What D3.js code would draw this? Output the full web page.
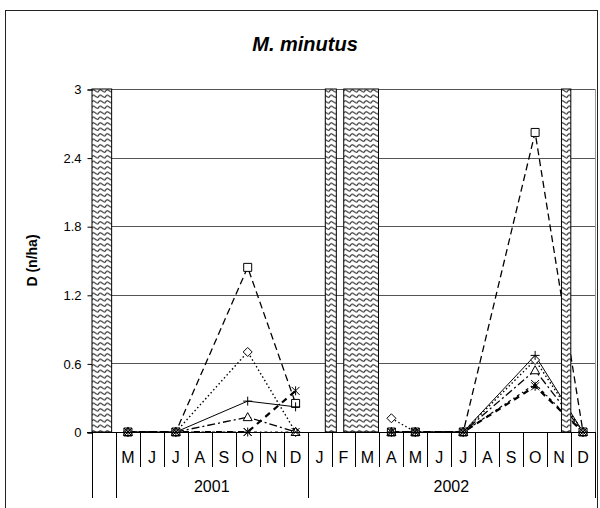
<!DOCTYPE html>
<html>
<head>
<meta charset="utf-8">
<script src="https://cdn.jsdelivr.net/npm/d3@7"></script>
<style>
  body { margin: 0; background: #fff; }
  text { font-family: "Liberation Sans", Arial, sans-serif; fill: #000; }
</style>
</head>
<body>
<svg id="chart" width="600" height="508"></svg>
<script>
// month categories along the bottom (first cell is empty)
const months = ["", "M", "J", "J", "A", "S", "O", "N", "D",
                "J", "F", "M", "A", "M", "J", "J", "A", "S", "O", "N", "D"];
const years = [{ label: "", n: 1 }, { label: "2001", n: 8 }, { label: "2002", n: 12 }];

// sampled months (index into months) split in two seasons
const season2001 = [1, 3, 6, 8];
const season2002 = [12, 13, 15, 18, 20];

// density values, one per sampled month (2001 then 2002)
const sqValues   = [0, 0, 1.44, 0.25,  0, 0, 0, 2.62, 0];
const diaValues  = [0, 0, 0.70, 0,     0.12, 0, 0, 0.63, 0];
const plusValues = [0, 0, 0.27, 0.22,  0, 0, 0, 0.67, 0];
const triValues  = [0, 0, 0.13, 0,     0, 0, 0, 0.54, 0];
const xValues    = [0, 0, 0, 0,        0, 0, 0, 0.42, 0];
const starValues = [0, 0, 0, 0.36,     0, 0, 0, 0.40, 0];

// hatched periods, in month units from the left of the axis
const periods = [[0, 0.82], [9.74, 10.2], [10.51, 11.96], [19.6, 19.99]];

const yTicks = [0, 0.6, 1.2, 1.8, 2.4, 3];

const svg = d3.select("#chart");
const plotLeft = 92, plotRight = 595, plotTop = 89, plotBottom = 432;

const x = d3.scaleLinear().domain([0, months.length]).range([plotLeft, plotRight]);
const y = d3.scaleLinear().domain([0, 3]).range([plotBottom, plotTop]);

// outer border
svg.append("rect")
    .attr("x", 5.5).attr("y", 10.5)
    .attr("width", 592).attr("height", 530)
    .style("fill", "none").style("stroke", "#222").style("stroke-width", 1);

// title
svg.append("text")
    .attr("x", 305).attr("y", 51)
    .attr("text-anchor", "middle")
    .style("font-size", "20px").style("font-weight", "bold").style("font-style", "italic")
    .text("M. minutus");

// pattern for the hatched columns
const defs = svg.append("defs");
const pat = defs.append("pattern")
    .attr("id", "wave").attr("patternUnits", "userSpaceOnUse")
    .attr("width", 7).attr("height", 5.5);
pat.append("rect").attr("width", 7).attr("height", 5.5).style("fill", "#fff");
pat.append("path")
    .attr("d", "M0,4 Q1.75,0.5 3.5,2.2 Q5.25,4 7,4")
    .style("fill", "none").style("stroke", "#222").style("stroke-width", 1.2);

// gridlines
svg.append("g").selectAll("line")
    .data(yTicks.filter(d => d > 0))
    .enter().append("line")
    .attr("x1", plotLeft).attr("x2", plotRight)
    .attr("y1", d => Math.round(y(d)) + 0.5).attr("y2", d => Math.round(y(d)) + 0.5)
    .style("stroke", "#555").style("stroke-width", 1);

// plot area right edge
svg.append("line")
    .attr("x1", plotRight + 0.5).attr("x2", plotRight + 0.5)
    .attr("y1", plotTop).attr("y2", plotBottom)
    .style("stroke", "#999");

// y axis
const yAxis = svg.append("g")
    .attr("transform", `translate(${plotLeft + 0.5},0.5)`)
    .call(d3.axisLeft(y).tickValues(yTicks).tickFormat(d => d).tickSize(5).tickPadding(6));
yAxis.select(".domain").style("stroke", "#000");
yAxis.selectAll("text").style("font-size", "13px").style("font-family", "Liberation Sans, Arial, sans-serif");

svg.append("text")
    .attr("transform", `translate(37,${(plotTop + plotBottom) / 2}) rotate(-90)`)
    .attr("text-anchor", "middle")
    .style("font-size", "14px").style("font-weight", "bold")
    .text("D (n/ha)");

// series
const sampleIdx = season2001.concat(season2002);
const series = [
    { name: "sq",   values: sqValues,   dash: "7,4",        width: 1.3, marker: "square" },
    { name: "dia",  values: diaValues,  dash: "1.5,2.5",    width: 1.4, marker: "diamond" },
    { name: "plus", values: plusValues, dash: null,         width: 1,   marker: "plus" },
    { name: "tri",  values: triValues,  dash: "8,3,2,3",    width: 1.3, marker: "triangle" },
    { name: "x",    values: xValues,    dash: "3,3,1.5,3",  width: 1.2, marker: "x" },
    { name: "star", values: starValues, dash: "6,5",        width: 2.2, marker: "star" }
];

const line = d3.line().x(d => x(d.i + 0.5)).y(d => y(d.v));
const lineLayer = svg.append("g");
series.forEach(s => {
    const pts = sampleIdx.map((i, k) => ({ i: i, v: s.values[k] }));
    const segs = [pts.slice(0, season2001.length), pts.slice(season2001.length)];
    segs.forEach(seg => {
        lineLayer.append("path")
            .attr("d", line(seg))
            .style("fill", "none")
            .style("stroke", "#000")
            .style("stroke-width", s.width)
            .style("stroke-dasharray", s.dash);
    });
});

// markers
const markerPath = {
    square: "M-4,-4H4V4H-4Z",
    diamond: "M0,-4.5L4.5,0L0,4.5L-4.5,0Z",
    triangle: "M0,-4.5L4.5,3.5H-4.5Z",
    plus: "M-4.5,0H4.5M0,-4.5V4.5",
    x: "M-4,-4L4,4M4,-4L-4,4",
    star: "M-4,-4L4,4M4,-4L-4,4M0,-4.5V4.5"
};
const markerLayer = svg.append("g");
series.forEach(s => {
    const filled = ["square", "diamond", "triangle"].includes(s.marker);
    markerLayer.selectAll(`.m-${s.name}`)
        .data(sampleIdx.map((i, k) => ({ i: i, v: s.values[k] })))
        .enter().append("path")
        .attr("class", `m-${s.name}`)
        .attr("transform", d => `translate(${x(d.i + 0.5)},${y(d.v)})`)
        .attr("d", markerPath[s.marker])
        .style("fill", filled ? "#fff" : "none")
        .style("stroke", "#000")
        .style("stroke-width", 1);
});

// hatched columns on top
svg.append("g").selectAll("rect")
    .data(periods)
    .enter().append("rect")
    .attr("x", d => x(d[0]))
    .attr("y", y(3))
    .attr("width", d => x(d[1]) - x(d[0]))
    .attr("height", y(0) - y(3))
    .style("fill", "url(#wave)")
    .style("stroke", "#000").style("stroke-width", 1);

// category axis
const cat = svg.append("g");
cat.append("line")
    .attr("x1", plotLeft - 5).attr("x2", plotRight)
    .attr("y1", plotBottom + 0.5).attr("y2", plotBottom + 0.5)
    .style("stroke", "#000");

const groupEdges = [0];
years.forEach(g => groupEdges.push(groupEdges[groupEdges.length - 1] + g.n));

cat.selectAll(".sep")
    .data(d3.range(0, months.length + 1))
    .enter().append("line")
    .attr("class", "sep")
    .attr("x1", d => Math.round(x(d)) + 0.5).attr("x2", d => Math.round(x(d)) + 0.5)
    .attr("y1", plotBottom)
    .attr("y2", d => groupEdges.includes(d) ? 498 : 467)
    .style("stroke", "#000");

cat.selectAll(".mon")
    .data(months)
    .enter().append("text")
    .attr("class", "mon")
    .attr("x", (d, i) => x(i + 0.5))
    .attr("y", 463)
    .attr("text-anchor", "middle")
    .style("font-size", "16px")
    .text(d => d);

cat.selectAll(".yr")
    .data(years)
    .enter().append("text")
    .attr("class", "yr")
    .attr("x", (d, k) => x((groupEdges[k] + groupEdges[k + 1]) / 2))
    .attr("y", 492)
    .attr("text-anchor", "middle")
    .style("font-size", "16px")
    .text(d => d.label);
</script>
</body>
</html>
